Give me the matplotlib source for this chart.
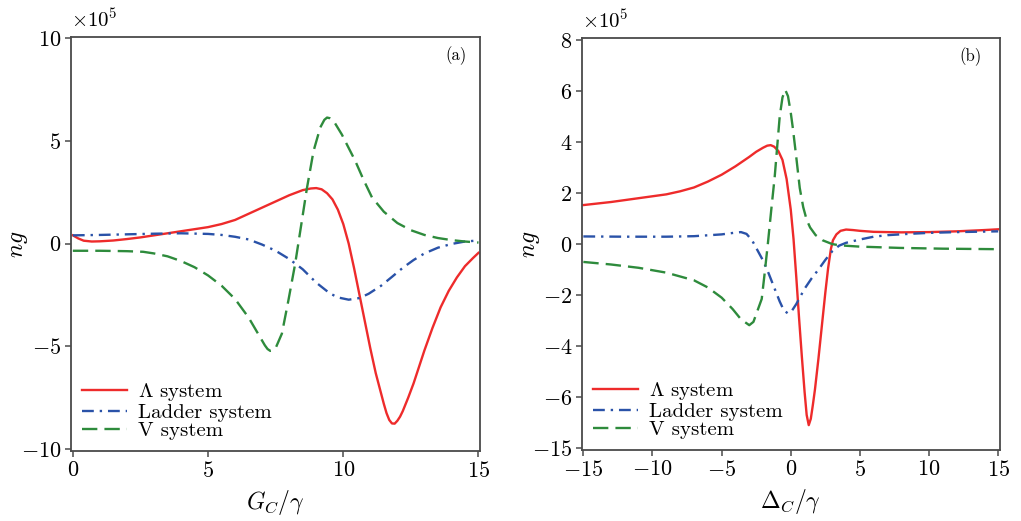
import matplotlib
matplotlib.use('Agg')
import matplotlib.pyplot as plt

plt.rcParams['font.family'] = 'serif'
plt.rcParams['font.serif'] = ['cmr10']
plt.rcParams['mathtext.fontset'] = 'cm'
plt.rcParams['axes.formatter.use_mathtext'] = True

# panel (a): ng vs G_C/gamma  (units of 1e5)
a_lam_x = [0, 0.2, 0.4, 0.7, 1.0, 1.5, 2.0, 2.5, 3.0, 3.5, 4.0, 4.5, 5.0, 5.5, 6.0, 6.5, 7.0, 7.5,
           8.0, 8.5, 8.8, 9.0, 9.2, 9.4, 9.6, 9.8, 10.0, 10.2, 10.4, 10.6, 10.8, 11.0, 11.2, 11.4,
           11.5, 11.6, 11.7, 11.8, 11.9, 12.0, 12.1, 12.2, 12.4, 12.6, 12.8, 13.0, 13.3, 13.6, 13.9,
           14.2, 14.5, 14.8, 15.0]
a_lam_y = [0.40, 0.25, 0.14, 0.10, 0.11, 0.15, 0.22, 0.30, 0.40, 0.50, 0.60, 0.70, 0.80, 0.95, 1.15,
           1.45, 1.75, 2.05, 2.35, 2.60, 2.68, 2.70, 2.64, 2.45, 2.15, 1.65, 0.95, 0.00, -1.20, -2.50,
           -3.80, -5.10, -6.30, -7.30, -7.80, -8.25, -8.58, -8.75, -8.76, -8.62, -8.42, -8.15, -7.50,
           -6.80, -6.00, -5.20, -4.10, -3.10, -2.30, -1.65, -1.10, -0.70, -0.45]

a_lad_x = [0, 1, 2, 3, 4, 5, 5.5, 6.0, 6.5, 7.0, 7.5, 8.0, 8.5, 9.0, 9.5, 9.8, 10.2, 10.6, 10.94,
           11.4, 11.8, 12.2, 12.6, 13.0, 13.5, 14.0, 14.5, 15.0]
a_lad_y = [0.40, 0.42, 0.45, 0.48, 0.50, 0.47, 0.42, 0.33, 0.20, -0.05, -0.35, -0.75, -1.25, -1.90,
           -2.42, -2.62, -2.73, -2.65, -2.44, -2.05, -1.62, -1.18, -0.80, -0.48, -0.20, -0.02, 0.10, 0.15]

a_v_x = [0, 1, 2, 2.6, 3.0, 3.5, 4.0, 4.5, 5.0, 5.5, 6.0, 6.5, 6.9, 7.1, 7.2, 7.3, 7.4, 7.5, 7.73,
         7.97, 8.22, 8.47, 8.65, 8.9, 9.15, 9.3, 9.4, 9.5, 9.65, 9.95, 10.2, 10.44, 10.75, 11.06,
         11.5, 12.0, 12.5, 13.0, 13.5, 14.0, 14.5, 15.0]
a_v_y = [-0.35, -0.35, -0.37, -0.40, -0.48, -0.62, -0.85, -1.15, -1.55, -2.05, -2.70, -3.60, -4.50,
         -4.95, -5.13, -5.22, -5.20, -5.08, -4.38, -2.77, -0.99, 1.12, 2.65, 4.50, 5.65, 6.02, 6.13,
         6.10, 5.95, 5.30, 4.65, 4.03, 3.10, 2.25, 1.55, 1.00, 0.65, 0.42, 0.27, 0.17, 0.10, 0.05]

# panel (b): ng vs Delta_C/gamma
b_lam_x = [-15, -13, -11, -9, -8, -7, -6, -5, -4, -3, -2.5, -2, -1.7, -1.45, -1.2, -0.9, -0.6, -0.3,
           0.0, 0.2, 0.4, 0.6, 0.8, 1.0, 1.15, 1.3, 1.45, 1.6, 1.75, 2.0, 2.25, 2.5, 2.7, 2.9, 3.05,
           3.3, 3.6, 4.0, 4.5, 5, 6, 8, 10, 12, 14, 15]
b_lam_y = [1.53, 1.65, 1.80, 1.95, 2.07, 2.22, 2.45, 2.72, 3.05, 3.42, 3.62, 3.78, 3.86, 3.88, 3.82,
           3.65, 3.30, 2.55, 1.35, 0.20, -1.30, -2.90, -4.40, -5.80, -6.70, -7.10, -6.85, -6.30,
           -5.70, -4.50, -3.20, -1.90, -0.95, -0.20, 0.15, 0.38, 0.52, 0.57, 0.55, 0.52, 0.48, 0.46,
           0.47, 0.50, 0.55, 0.58]

b_lad_x = [-15, -12, -9, -7, -5, -4, -3.6, -3.2, -2.8, -2.4, -2.0, -1.6, -1.2, -0.8, -0.5, -0.2, 0.1,
           0.4, 0.7, 1.0, 1.5, 2.0, 2.5, 3.0, 3.5, 4.0, 5.0, 6.0, 7.0, 8.5, 10, 12, 15]
b_lad_y = [0.30, 0.29, 0.29, 0.31, 0.38, 0.45, 0.47, 0.40, 0.15, -0.25, -0.65, -1.15, -1.70, -2.25,
           -2.60, -2.72, -2.60, -2.35, -2.05, -1.75, -1.35, -1.00, -0.62, -0.28, -0.06, 0.05, 0.18,
           0.29, 0.35, 0.40, 0.44, 0.47, 0.50]

b_v_x = [-15, -13, -11, -9, -7, -6, -5, -4.2, -3.6, -3.0, -2.7, -2.4, -2.1, -1.9, -1.65, -1.4, -1.16,
         -1.0, -0.8, -0.6, -0.4, -0.2, 0.0, 0.15, 0.4, 0.65, 0.9, 1.15, 1.4, 1.8, 2.3, 3.0, 3.55, 5,
         7.9, 11, 15]
b_v_y = [-0.70, -0.80, -0.93, -1.12, -1.42, -1.70, -2.10, -2.55, -2.95, -3.18, -3.05, -2.60, -2.15,
         -1.20, 0.05, 1.40, 2.65, 3.70, 5.00, 5.75, 6.05, 5.80, 5.15, 4.55, 3.40, 2.20, 1.45, 0.95,
         0.65, 0.35, 0.15, 0.00, -0.05, -0.10, -0.15, -0.18, -0.20]

labels = [r'$\Lambda$ system', 'Ladder system', 'V system']
red, blue, green = '#ee2b2b', '#2a52a8', '#2e8b3c'
spine_c = '#4a4a4a'

fig = plt.figure(figsize=(10.21, 5.21), dpi=100)
ax1 = fig.add_axes([0.0695, 0.134, 0.401, 0.795])
ax2 = fig.add_axes([0.570, 0.136, 0.409, 0.791])


def style(ax):
    for s in ax.spines.values():
        s.set_color(spine_c)
        s.set_linewidth(1.3)
    ax.tick_params(direction='out', length=4, width=1.1, color=spine_c,
                   labelsize=16, top=False, right=False, pad=3)


def draw(ax, data, ylab_x):
    (lx, ly), (dx, dy), (vx, vy) = data
    ax.plot(lx, ly, color=red, lw=1.7, label=labels[0])
    ax.plot(dx, dy, color=blue, lw=1.7, dashes=(5, 2.5, 1, 2.5), label=labels[1])
    ax.plot(vx, vy, color=green, lw=1.7, dashes=(6.5, 3), label=labels[2])
    ax.legend(loc='lower left', bbox_to_anchor=(0.027, 0.026), frameon=False, fontsize=15,
              handlelength=2.15, handletextpad=0.55, labelspacing=0.0, borderpad=0,
              borderaxespad=0)
    ax.text(0.0, 1.015, r'$\times10^5$', transform=ax.transAxes, fontsize=15,
            ha='left', va='bottom')
    ax.set_ylabel(r'$ng$', fontsize=17)
    ax.yaxis.set_label_coords(ylab_x, 0.5)
    style(ax)


draw(ax1, [(a_lam_x, a_lam_y), (a_lad_x, a_lad_y), (a_v_x, a_v_y)], -0.10)
ax1.set_xlim(-0.07, 15.07)
ax1.set_ylim(-10.1, 10.05)
ax1.set_xticks([0, 5, 10, 15])
ax1.set_xticklabels(['$0$', '$5$', '$10$', '$15$'])
ax1.set_yticks([-10, -5, 0, 5, 10])
ax1.set_yticklabels(['$-10$', '$-5$', '$0$', '$5$', '$10$'])
ax1.set_xlabel(r'$G_C/\gamma$', fontsize=17, labelpad=5)
ax1.text(0.94, 0.955, '(a)', transform=ax1.transAxes, fontsize=12, ha='center', va='center')

draw(ax2, [(b_lam_x, b_lam_y), (b_lad_x, b_lad_y), (b_v_x, b_v_y)], -0.095)
ax2.set_xlim(-15.1, 15.1)
ax2.set_ylim(-8.08, 8.08)
ax2.set_xticks([-15, -10, -5, 0, 5, 10, 15])
ax2.set_xticklabels(['$-15$', '$-10$', '$-5$', '$0$', '$5$', '$10$', '$15$'])
ax2.set_yticks([-8, -6, -4, -2, 0, 2, 4, 6, 8])
ax2.set_yticklabels(['$-15$', '$-6$', '$-4$', '$-2$', '$0$', '$2$', '$4$', '$6$', '$8$'])
ax2.set_xlabel(r'$\Delta_C/\gamma$', fontsize=17, labelpad=5)
ax2.text(0.93, 0.955, '(b)', transform=ax2.transAxes, fontsize=12, ha='center', va='center')

fig.savefig('out.png', dpi=100)
